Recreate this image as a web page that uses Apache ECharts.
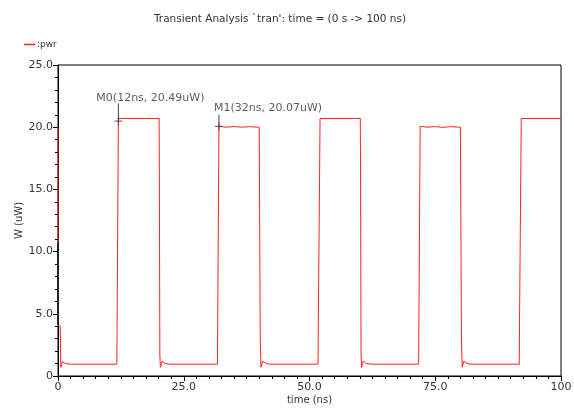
<!DOCTYPE html>
<html>
<head>
<meta charset="utf-8">
<script src="https://cdn.jsdelivr.net/npm/echarts@6/dist/echarts.min.js"></script>
<style>
  html, body { margin: 0; padding: 0; background: #fff; }
  #chart { width: 574px; height: 408px; }
</style>
</head>
<body>
<div id="chart"></div>
<script>
// waveform :pwr (time in ns, power in uW)
const timeNs = [
  0, 0.02, 0.45, 0.55, 0.9, 1.5, 2.5,
  11.7, 11.75, 11.95, 12.0, 12.1, 20.1, 20.15, 20.25, 20.35, 20.7, 21.3, 22.3,
  31.7, 31.75, 31.95, 32.0, 33.5, 35.0, 36.5, 38.0, 40.0, 40.05, 40.2, 40.35, 40.7, 41.3, 42.3,
  51.7, 51.75, 51.95, 52.1, 60.1, 60.15, 60.25, 60.35, 60.7, 61.3, 62.3,
  71.7, 71.75, 71.95, 72.0, 73.5, 75.0, 76.5, 78.0, 80.0, 80.05, 80.2, 80.35, 80.7, 81.3, 82.3,
  91.7, 91.75, 91.95, 92.1, 100
];
const powerUw = [
  20.0, 4.1, 4.0, 0.7, 1.15, 1.0, 0.95,
  0.95, 4.2, 4.3, 20.49, 20.7, 20.7, 16.5, 1.7, 0.7, 1.2, 1.0, 0.95,
  0.95, 4.2, 4.3, 20.07, 20.0, 20.05, 20.0, 20.04, 20.0, 16.3, 3.3, 0.7, 1.2, 1.0, 0.95,
  0.95, 4.2, 4.3, 20.7, 20.7, 16.5, 1.7, 0.7, 1.2, 1.0, 0.95,
  0.95, 4.2, 4.3, 20.07, 20.0, 20.05, 19.99, 20.04, 20.0, 16.3, 3.3, 0.7, 1.2, 1.0, 0.95,
  0.95, 4.2, 4.3, 20.7, 20.7
];

// markers
const markerNames = ['M0(12ns, 20.49uW)', 'M1(32ns, 20.07uW)'];
const markerTimes = [12, 32];
const markerValues = [20.49, 20.07];
const markerTops = [21.9, 21.0];

// dark segment on the left edge at t = 0
const edgeTimes = [0, 0];
const edgeValues = [10.7, 4.1];

const xTicks = [0, 25, 50, 75, 100];
const yTicks = [0, 5, 10, 15, 20, 25];

const fnt = 'DejaVu Sans';
const txt = '#333';

const chart = echarts.init(document.getElementById('chart'));

const series = [
  {
    name: ':pwr',
    type: 'line',
    data: timeNs.map((t, i) => [t, powerUw[i]]),
    showSymbol: false,
    lineStyle: { color: '#ff2020', width: 1 },
    itemStyle: { color: '#ff2020' },
    z: 2
  },
  {
    name: 'edge',
    type: 'line',
    data: edgeTimes.map((t, i) => [t, edgeValues[i]]),
    showSymbol: false,
    lineStyle: { color: '#222', width: 2 },
    z: 3
  }
];

markerTimes.forEach((t, i) => {
  series.push({
    name: 'mline' + i,
    type: 'line',
    data: [[t, markerValues[i]], [t, markerTops[i]]],
    showSymbol: false,
    lineStyle: { color: '#444', width: 1 },
    z: 4
  });
});

series.push({
  name: 'mcross',
  type: 'scatter',
  data: markerTimes.map((t, i) => [t, markerValues[i]]),
  symbol: 'path://M0,4H8M4,0V8',
  symbolSize: 8,
  itemStyle: { color: 'transparent', borderColor: '#333', borderWidth: 1 },
  z: 5
});

const labelOffsets = [[-22, -5], [-5, -7]];
series.push({
  name: 'mlabel',
  type: 'scatter',
  symbolSize: 1,
  itemStyle: { color: 'transparent' },
  data: markerTimes.map((t, i) => ({
    value: [t, markerTops[i]],
    label: {
      show: true,
      formatter: markerNames[i],
      position: 'inside',
      align: 'left',
      verticalAlign: 'middle',
      offset: labelOffsets[i],
      fontFamily: fnt,
      fontSize: 11,
      color: txt
    }
  })),
  z: 6
});

const option = {
  animation: false,
  title: {
    text: "Transient Analysis `tran': time = (0 s -> 100 ns)",
    left: 149,
    top: 9,
    textStyle: { fontFamily: fnt, fontSize: 10.5, fontWeight: 'normal', color: txt }
  },
  legend: {
    data: [':pwr'],
    left: 19,
    top: 35,
    icon: 'rect',
    itemWidth: 11,
    itemHeight: 1.5,
    itemGap: 4,
    textStyle: { fontFamily: fnt, fontSize: 9, color: txt, padding: [0, 0, 0, -3] }
  },
  grid: {
    left: 58, right: 13, top: 65, bottom: 32,
    outerBoundsMode: 'none',
    show: true, borderColor: '#000', borderWidth: 1
  },
  xAxis: {
    type: 'value',
    min: xTicks[0], max: xTicks[xTicks.length - 1], interval: 25,
    name: 'time (ns)',
    nameLocation: 'middle',
    nameGap: 19,
    nameMoveOverlap: false,
    nameTextStyle: { fontFamily: fnt, fontSize: 10, color: txt },
    axisLine: { lineStyle: { color: '#000', width: 1 } },
    axisTick: { length: 5, lineStyle: { color: '#000' } },
    minorTick: { show: true, splitNumber: 10, length: 3, lineStyle: { color: '#000' } },
    splitLine: { show: false },
    axisLabel: {
      fontFamily: fnt, fontSize: 11, color: txt, margin: 6,
      formatter: v => (v === 0 || v === 100) ? String(v) : v.toFixed(1)
    }
  },
  yAxis: {
    type: 'value',
    min: yTicks[0], max: yTicks[yTicks.length - 1], interval: 5,
    name: 'W (uW)',
    nameLocation: 'middle',
    nameGap: 34,
    nameMoveOverlap: false,
    nameTextStyle: { fontFamily: fnt, fontSize: 10, color: txt },
    axisLine: { lineStyle: { color: '#000', width: 1 } },
    axisTick: { length: 5, lineStyle: { color: '#000' } },
    minorTick: { show: true, splitNumber: 5, length: 3, lineStyle: { color: '#000' } },
    splitLine: { show: false },
    axisLabel: {
      fontFamily: fnt, fontSize: 11, color: txt, margin: 5,
      formatter: v => v === 0 ? '0' : v.toFixed(1)
    }
  },
  series: series
};

chart.setOption(option);
</script>
</body>
</html>
